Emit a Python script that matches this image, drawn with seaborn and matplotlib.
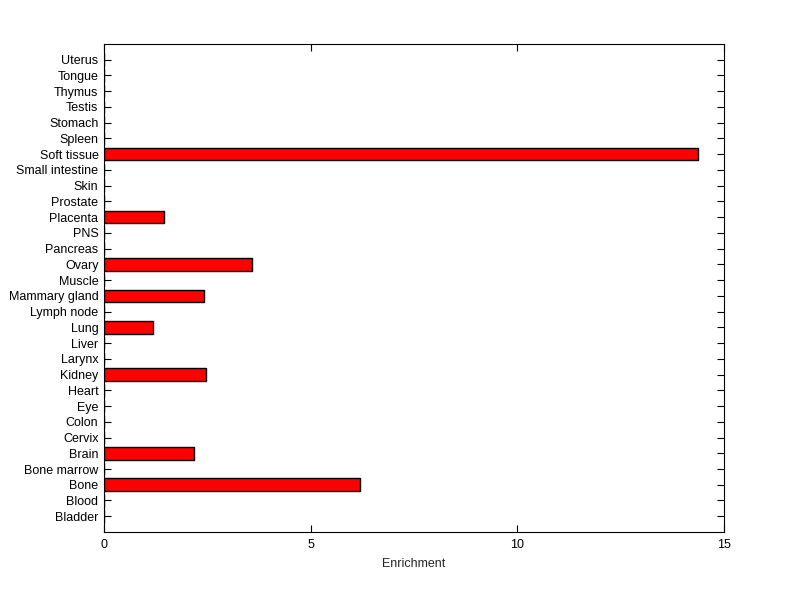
import matplotlib
matplotlib.use("Agg")
import matplotlib.pyplot as plt
import seaborn as sns
import pandas as pd

tissues = ["Bladder", "Blood", "Bone", "Bone marrow", "Brain", "Cervix", "Colon", "Eye",
           "Heart", "Kidney", "Larynx", "Liver", "Lung", "Lymph node", "Mammary gland",
           "Muscle", "Ovary", "Pancreas", "PNS", "Placenta", "Prostate", "Skin",
           "Small intestine", "Soft tissue", "Spleen", "Stomach", "Testis", "Thymus",
           "Tongue", "Uterus"]
enrichment = [0, 0, 6.20, 0, 2.18, 0, 0, 0,
              0, 2.46, 0, 0, 1.18, 0, 2.43,
              0, 3.57, 0, 0, 1.44, 0, 0,
              0, 14.36, 0, 0, 0, 0,
              0, 0]
xticks = [0, 5, 10, 15]

df = pd.DataFrame({"tissue": tissues, "enrichment": enrichment})
order = tissues[::-1]

sns.set_style("white")
plt.rcParams["font.family"] = ["Liberation Sans", "DejaVu Sans"]

fig = plt.figure(figsize=(8, 5.99), dpi=100)
ax = fig.add_axes([0.13, 0.1119, 0.775, 0.8147])
sns.barplot(data=df, x="enrichment", y="tissue", order=order, orient="h",
            color="#ff0000", edgecolor="black", linewidth=1.0, width=0.8,
            saturation=1, ax=ax)
ax.set_xlim(0, 15)
ax.set_ylim(len(order), -1)
ax.set_xticks(xticks)
ax.set_xticklabels([str(t) for t in xticks])
ax.set_xlabel("Enrichment", fontsize=9, labelpad=5)
ax.set_ylabel("")
ax.tick_params(axis="both", direction="in", length=5, width=0.8, labelsize=9,
               top=True, right=True, bottom=True, left=True, colors="black")
ax.tick_params(axis="y", pad=4)
ax.tick_params(axis="x", pad=5)
for s in ax.spines.values():
    s.set_visible(True)
    s.set_color("black")
    s.set_linewidth(0.8)
fig.savefig("out.png", dpi=100, facecolor="white")
